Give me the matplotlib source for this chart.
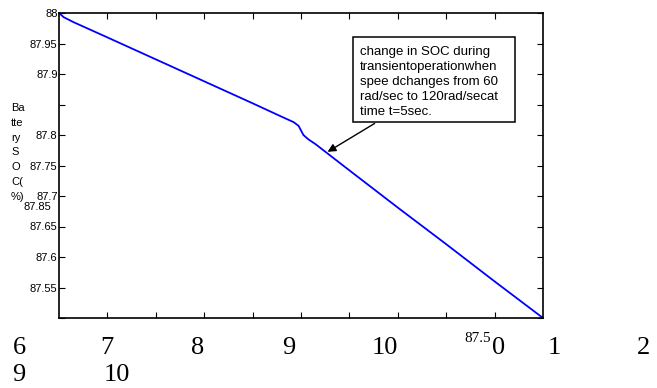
import matplotlib
matplotlib.use("Agg")
import matplotlib.pyplot as plt
from matplotlib.patches import Rectangle
import numpy as np

# data
time_s = [0, 0.1, 0.3, 1, 2, 3, 4, 4.6, 4.85, 4.95, 5.05, 5.15, 5.3, 6, 7, 8, 9, 10]
soc_pct = [88.0, 87.993, 87.985, 87.96, 87.924, 87.888, 87.852, 87.830, 87.821,
           87.815, 87.800, 87.793, 87.785, 87.742, 87.681, 87.621, 87.560, 87.500]
y_ticks = [87.5, 87.55, 87.6, 87.65, 87.7, 87.75, 87.8, 87.85, 87.9, 87.95, 88.0]
y_ticklabels = ["", "87.55", "87.6", "87.65", "87.7", "87.75", "87.8", "", "87.9", "87.95", "88"]
x_ticks = [1, 2, 3, 4, 5, 6, 7, 8, 9]
annot_text = ("change in SOC during\ntransientoperationwhen\nspee dchanges from 60\n"
              "rad/sec to 120rad/secat\ntime t=5sec.")
annot_point = (5.5, 87.770)
ylabel_text = "Ba\ntte\nry\nS\nO\nC(\n%)"
stray_row1 = [("6", 19), ("7", 107), ("8", 198), ("9", 289), ("10", 385),
              ("0", 499), ("1", 554), ("2", 643)]
stray_row2 = [("9", 19), ("10", 117)]

W, H = 657, 388
fig = plt.figure(figsize=(W / 100, H / 100), dpi=100)
def fx(px): return px / W
def fy(py): return 1 - py / H

ax = fig.add_axes([fx(59), fy(318), fx(543) - fx(59), fy(13) - fy(318)])
ax.plot(time_s, soc_pct, color="#0000ff", lw=1.3)
ax.set_xlim(0, 10)
ax.set_ylim(87.5, 88.0)
ax.set_xticks(x_ticks)
ax.set_xticklabels([])
ax.set_yticks(y_ticks)
ax.set_yticklabels(y_ticklabels, fontsize=8, family="Liberation Sans")
ax.tick_params(direction="in", length=4, width=0.8, top=True, right=True, pad=1)
for s in ax.spines.values():
    s.set_linewidth(1.2)

# stray y label pieces
fig.text(fx(51), fy(207), "87.85", fontsize=8, family="Liberation Sans", ha="right", va="center")
fig.text(fx(11), fy(103), ylabel_text, fontsize=8, family="Liberation Sans",
         ha="left", va="top", linespacing=1.6)

# stray x labels
for s, x in stray_row1:
    fig.text(fx(x), fy(348), s, fontsize=19, family="Liberation Serif", ha="center", va="center")
for s, x in stray_row2:
    fig.text(fx(x), fy(375), s, fontsize=19, family="Liberation Serif", ha="center", va="center")
fig.text(fx(491), fy(339), "87.5", fontsize=11, family="Liberation Serif", ha="right", va="center")

# annotation box
fig.patches.append(Rectangle((fx(353), fy(122)), fx(515) - fx(353), fy(37) - fy(122),
                             transform=fig.transFigure, fc="white", ec="black", lw=1.1,
                             zorder=5))
fig.text(fx(360), fy(46), annot_text, fontsize=9.5, family="Liberation Sans", ha="left", va="top",
         linespacing=1.32, zorder=6)
ax.annotate("", xy=annot_point, xytext=(fx(377), fy(122)), textcoords="figure fraction",
            arrowprops=dict(arrowstyle="-|>", color="black", lw=1, mutation_scale=12))

fig.savefig("out.png", dpi=100)
